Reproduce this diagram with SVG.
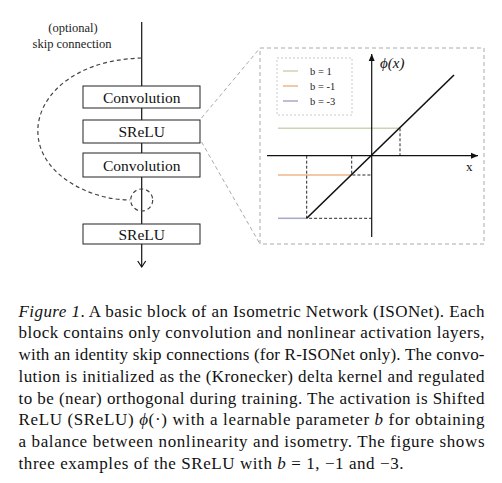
<svg xmlns="http://www.w3.org/2000/svg" width="502" height="483" viewBox="0 0 502 483">
<style>
.box{fill:#fff;stroke:#222;stroke-width:1}
.bt{font-family:"Liberation Serif",serif;font-size:15.5px;fill:#111;text-anchor:middle}
.lab{font-family:"Liberation Serif",serif;font-size:12.5px;fill:#222;text-anchor:middle}
.cap{font-family:"Liberation Serif",serif;font-size:17px;fill:#111}
.leg{font-family:"Liberation Serif",serif;font-size:10.5px;fill:#222}
.dash{fill:none;stroke:#444;stroke-width:1.2;stroke-dasharray:4,3}
.zoom{fill:none;stroke:#aaa;stroke-width:1;stroke-dasharray:4,3}
.guide{fill:none;stroke:#111;stroke-width:0.9;stroke-dasharray:3,2}
.ax{stroke:#111;stroke-width:1.2}
</style>
<defs>
<marker id="open" markerWidth="10" markerHeight="10" refX="7" refY="5" orient="auto" markerUnits="userSpaceOnUse" viewBox="0 0 10 10">
<path d="M1,1 L7,5 L1,9" fill="none" stroke="#111" stroke-width="1.2"/>
</marker>
<marker id="tri" markerWidth="8" markerHeight="8" refX="7" refY="4" orient="auto" markerUnits="userSpaceOnUse" viewBox="0 0 8 8">
<path d="M0,1 L7,4 L0,7 Z" fill="#111"/>
</marker>
</defs>
<rect width="502" height="483" fill="#fff"/>
<text class="lab" x="73" y="32">(optional)</text>
<text class="lab" x="72" y="48">skip connection</text>
<g id="connectors">
<line x1="141.7" y1="22" x2="141.7" y2="267" stroke="#111" stroke-width="1.2" marker-end="url(#open)"/>
<path class="dash" d="M141.7,58 C70,60 35,100 38,135 C41,175 90,200 130,200"/>
<circle class="dash" cx="141.7" cy="200" r="11"/>
<line class="zoom" x1="201.5" y1="118" x2="260" y2="48"/>
<line class="zoom" x1="201.5" y1="142" x2="260" y2="244"/>
</g>
<g id="conv1"><rect class="box" x="83" y="86" width="117" height="22"/><text class="bt" x="141.7" y="102.5">Convolution</text></g>
<g id="srelu1"><rect class="box" x="83" y="120" width="117" height="23"/><text class="bt" x="141.7" y="137">SReLU</text></g>
<g id="conv2"><rect class="box" x="83" y="153" width="117" height="24"/><text class="bt" x="141.7" y="170.5">Convolution</text></g>
<g id="srelu2"><rect class="box" x="83" y="224" width="117" height="20"/><text class="bt" x="141.7" y="239.5">SReLU</text></g>
<g id="plot">
<rect x="260" y="48" width="224" height="196" fill="none" stroke="#aaa" stroke-width="1" stroke-dasharray="4,3"/>
<rect x="277" y="58" width="75" height="57" fill="#fff" stroke="#bbb" stroke-width="0.8" stroke-dasharray="2,2"/>
<line x1="283" y1="71" x2="298" y2="71" stroke="#c9d6b3" stroke-width="1.5"/>
<line x1="283" y1="86" x2="298" y2="86" stroke="#f1b48a" stroke-width="1.5"/>
<line x1="283" y1="101" x2="298" y2="101" stroke="#a3a9c9" stroke-width="1.5"/>
<text class="leg" x="310" y="75">b = 1</text>
<text class="leg" x="310" y="90">b = -1</text>
<text class="leg" x="310" y="105">b = -3</text>
<line x1="278" y1="128.3" x2="400" y2="128.3" stroke="#c9d6b3" stroke-width="1.5"/>
<line x1="278" y1="175" x2="351.7" y2="175" stroke="#f1b48a" stroke-width="1.5"/>
<line x1="278" y1="218.3" x2="306.7" y2="218.3" stroke="#a3a9c9" stroke-width="1.5"/>
<line class="ax" x1="267" y1="155.7" x2="478" y2="155.7" marker-end="url(#tri)"/>
<line class="ax" x1="371.7" y1="237" x2="371.7" y2="54" marker-end="url(#tri)"/>
<path class="guide" d="M400,128.3 V155.7"/>
<path class="guide" d="M351.7,155.7 V175 H371.7"/>
<path class="guide" d="M306.7,155.7 V218.3 H371.7"/>
<line x1="306.7" y1="218.3" x2="454" y2="75" stroke="#111" stroke-width="1.6"/>
<text x="380" y="68" font-family="Liberation Serif,serif" font-style="italic" font-size="15" fill="#111">ϕ(x)</text>
<text x="466" y="171" font-family="Liberation Serif,serif" font-size="13" fill="#111">x</text>
</g>
<g id="caption" class="cap">
<text x="18.5" y="316.5" textLength="466" lengthAdjust="spacing"><tspan font-style="italic">Figure 1</tspan>. A basic block of an Isometric Network (ISONet). Each</text>
<text x="18.5" y="338.3" textLength="466" lengthAdjust="spacing">block contains only convolution and nonlinear activation layers,</text>
<text x="18.5" y="360" textLength="466" lengthAdjust="spacing">with an identity skip connections (for R-ISONet only). The convo-</text>
<text x="18.5" y="381.8" textLength="466" lengthAdjust="spacing">lution is initialized as the (Kronecker) delta kernel and regulated</text>
<text x="18.5" y="403.6" textLength="466" lengthAdjust="spacing">to be (near) orthogonal during training. The activation is Shifted</text>
<text x="18.5" y="425.4" textLength="466" lengthAdjust="spacing">ReLU (SReLU) <tspan font-style="italic">ϕ</tspan>(·) with a learnable parameter <tspan font-style="italic">b</tspan> for obtaining</text>
<text x="18.5" y="447.2" textLength="466" lengthAdjust="spacing">a balance between nonlinearity and isometry. The figure shows</text>
<text x="18.5" y="469" textLength="385" lengthAdjust="spacing">three examples of the SReLU with <tspan font-style="italic">b</tspan> = 1, −1 and −3.</text>
</g>
</svg>
